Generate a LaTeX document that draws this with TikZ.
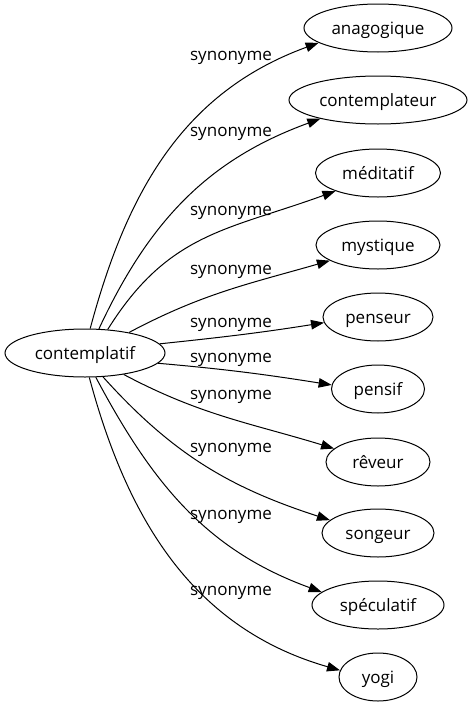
\documentclass[tikz,border=0pt]{standalone}
\usepackage{fontspec}
\setmainfont{Open Sans}
\usetikzlibrary{shapes.geometric,arrows.meta}
\tikzset{
  word/.style={draw=black, line width=1pt, ellipse, inner sep=0pt, minimum height=48pt,
    text height=16pt, text depth=3pt, font=\fontsize{17}{20}\selectfont},
  rel/.style={font=\fontsize{17}{20}\selectfont, inner sep=0pt, anchor=base},
  edge/.style={draw=black, line width=1pt, -{Triangle[length=13pt,width=9.5pt]}},
}
\begin{document}
\begin{tikzpicture}[x=1pt,y=1pt]
\useasboundingbox (0,0) rectangle (472,-707);
\node[word, minimum width=160pt] (src) at (85,-353) {contemplatif};
\node[word, minimum width=148pt] (t1) at (378,-28) {anagogique};
\node[word, minimum width=178pt] (t2) at (378,-100) {contemplateur};
\node[word, minimum width=125pt] (t3) at (378,-173) {méditatif};
\node[word, minimum width=124pt] (t4) at (378,-245) {mystique};
\node[word, minimum width=110pt] (t5) at (378,-317) {penseur};
\node[word, minimum width=93pt] (t6) at (378,-389) {pensif};
\node[word, minimum width=104pt] (t7) at (378,-462) {rêveur};
\node[word, minimum width=112pt] (t8) at (378,-533) {songeur};
\node[word, minimum width=132pt] (t9) at (378,-605) {spéculatif};
\node[word, minimum width=78pt] (t10) at (378,-677) {yogi};

\node[rel] (l1) at (231,-60) {synonyme};
\node[rel] (l2) at (231,-136) {synonyme};
\node[rel] (l3) at (231,-215) {synonyme};
\node[rel] (l4) at (231,-274) {synonyme};
\node[rel] (l5) at (231,-327) {synonyme};
\node[rel] (l6) at (231,-362) {synonyme};
\node[rel] (l7) at (231,-399) {synonyme};
\node[rel] (l8) at (231,-452) {synonyme};
\node[rel] (l9) at (231,-519) {synonyme};
\node[rel] (l10) at (231,-595) {synonyme};

\draw[edge] (src.78) to[out=75,in=200] (t1.194);
\draw[edge] (src.60) to[out=65,in=200] (t2.198);
\draw[edge] (src.46) to[out=58,in=200,looseness=1.1] (t3.203);
\draw[edge] (src.25) to[out=28,in=196] (t4.198);
\draw[edge] (src.7.6) to[out=6,in=189] (t5.186);
\draw[edge] (src.-8.5) to[out=-5,in=171] (t6.175);
\draw[edge] (src.-29) to[out=-28,in=163] (t7.163);
\draw[edge] (src.-53) to[out=-48,in=162] (t8.165);
\draw[edge] (src.-66) to[out=-62,in=160] (t9.167);
\draw[edge] (src.-80) to[out=-75,in=164] (t10.170);
\end{tikzpicture}
\end{document}
